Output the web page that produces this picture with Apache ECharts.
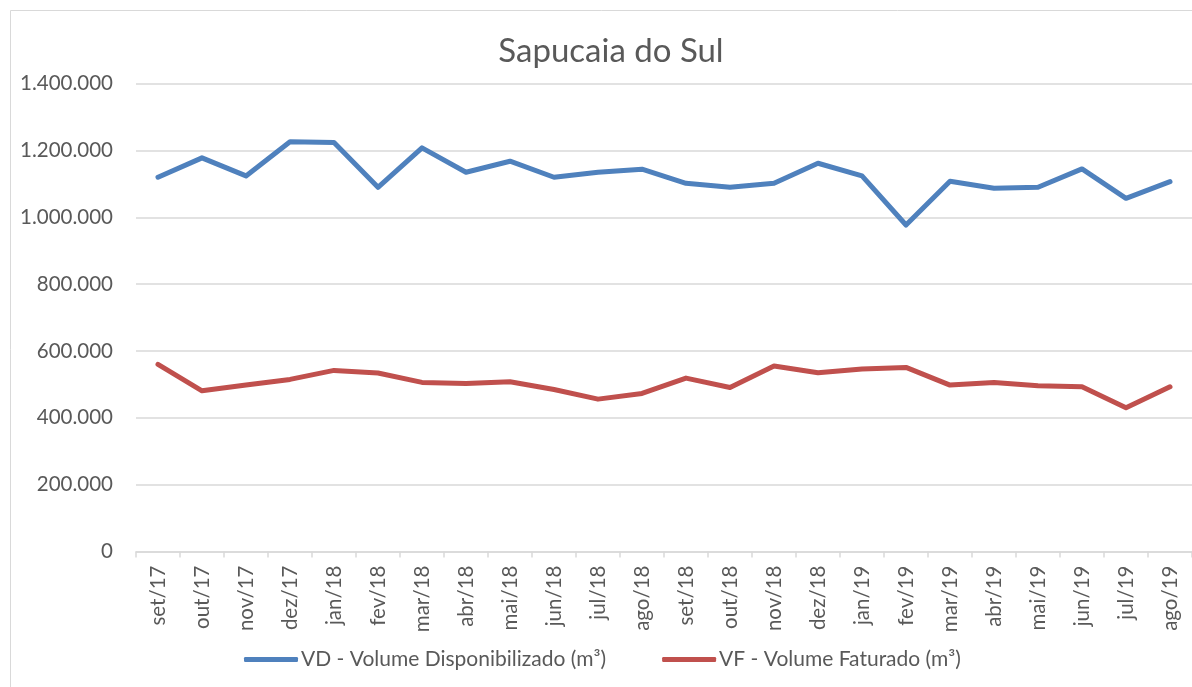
<!DOCTYPE html>
<html>
<head>
<meta charset="utf-8">
<script src="https://cdn.jsdelivr.net/npm/echarts@6/dist/echarts.min.js"></script>
<style>
  html, body { margin: 0; padding: 0; background: #fff; }
  #chart { width: 1192px; height: 687px; }
</style>
</head>
<body>
<div id="chart"></div>
<script>
// Monthly volumes for Sapucaia do Sul (m³)
const months = ['set/17','out/17','nov/17','dez/17','jan/18','fev/18','mar/18','abr/18','mai/18','jun/18','jul/18','ago/18',
                'set/18','out/18','nov/18','dez/18','jan/19','fev/19','mar/19','abr/19','mai/19','jun/19','jul/19','ago/19'];
const volumeDisponibilizado = [1120000,1178000,1124000,1226000,1224000,1090000,1208000,1135000,1168000,1120000,1135000,1144000,
                               1102000,1090000,1102000,1162000,1124000,977000,1108000,1087000,1090000,1145000,1057000,1107000];
const volumeFaturado = [560000,481000,498000,515000,542000,534000,506000,503000,508000,485000,456000,473000,
                        519000,491000,555000,535000,546000,551000,498000,506000,496000,493000,430000,493000];
const seriesNames = ['VD - Volume Disponibilizado (m³)', 'VF - Volume Faturado (m³)'];

const FONT = 'Lato, "Open Sans", sans-serif';
const TEXT = '#595959';
const GRID_LINE = '#d9d9d9';

// pt-BR thousands separator: 1.200.000
const fmt = v => String(v).replace(/\B(?=(\d{3})+(?!\d))/g, '.');

const chart = echarts.init(document.getElementById('chart'));
chart.setOption({
  backgroundColor: '#fff',
  animation: false,
  graphic: [{
    type: 'rect',
    shape: { x: 10.5, y: 10.5, width: 1200, height: 700 },
    style: { fill: 'none', stroke: '#d9d9d9', lineWidth: 1 },
    silent: true
  }],
  title: {
    text: 'Sapucaia do Sul',
    left: 606, top: 30, textAlign: 'center',
    textStyle: { fontFamily: FONT, fontSize: 33, fontWeight: 'normal', color: TEXT }
  },
  legend: {
    data: seriesNames,
    bottom: 12, left: 239,
    icon: 'roundRect', itemWidth: 54, itemHeight: 5, itemGap: 56,
    textStyle: { fontFamily: FONT, fontSize: 21, color: TEXT, padding: [0, 0, 0, -2] }
  },
  grid: { left: 136, top: 83.7, width: 1058, height: 467.8, containLabel: false },
  xAxis: {
    type: 'category',
    data: months,
    boundaryGap: true,
    axisLine: { lineStyle: { color: GRID_LINE, width: 1.5 } },
    axisTick: { show: true, length: 6, lineStyle: { color: GRID_LINE, width: 1.5 } },
    axisLabel: { rotate: 90, interval: 0, margin: 14, fontFamily: FONT, fontSize: 20.5, color: TEXT }
  },
  yAxis: {
    type: 'value',
    min: 0, max: 1400000, interval: 200000,
    axisLine: { show: false },
    axisTick: { show: false },
    splitLine: { lineStyle: { color: GRID_LINE, width: 1.5 } },
    axisLabel: { formatter: fmt, margin: 23, fontFamily: FONT, fontSize: 20.5, color: TEXT }
  },
  series: [
    {
      name: seriesNames[0], type: 'line', data: volumeDisponibilizado,
      symbol: 'none', color: '#4f81bd',
      lineStyle: { width: 5, color: '#4f81bd', cap: 'round', join: 'round' }
    },
    {
      name: seriesNames[1], type: 'line', data: volumeFaturado,
      symbol: 'none', color: '#c0504d',
      lineStyle: { width: 5, color: '#c0504d', cap: 'round', join: 'round' }
    }
  ]
});
</script>
</body>
</html>
